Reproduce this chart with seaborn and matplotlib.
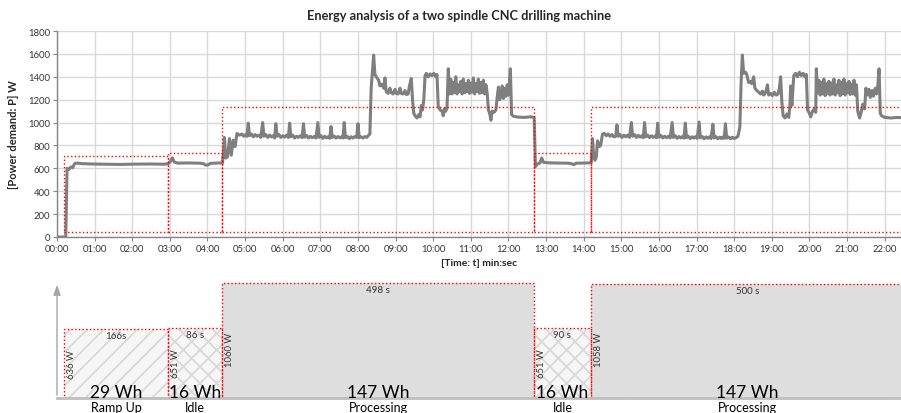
import numpy as np
import matplotlib.pyplot as plt
from matplotlib.ticker import FuncFormatter, MultipleLocator
import seaborn as sns

time_s = [
    0, 14, 16, 19, 22, 25, 28, 32, 40, 55, 75, 100, 125, 150, 170, 177, 181, 184, 187, 192,
    210, 228, 234, 237, 241, 245, 255, 262,
    # processing 1
    264, 267, 269, 272, 275, 278, 281, 284, 287, 291, 295, 298, 301, 303, 305, 307, 310, 313,
    316, 319, 322, 325, 328, 330, 333, 336, 339, 342, 345, 347, 349, 351, 354, 357, 360, 363,
    366, 369, 371, 373, 376, 379, 382, 385, 388, 391, 393, 395, 398, 401, 404, 407, 410, 413,
    416, 418, 421, 424, 427, 430, 433, 435, 437, 439, 442, 445, 448, 451, 454, 456, 458, 460,
    463, 466, 469, 472, 475, 478, 480, 482, 485, 488, 491, 494, 497, 499, 501, 505, 507, 509,
    511, 513, 515, 517, 519, 521, 523, 525, 528, 531, 533, 536, 539, 541, 544, 547, 549, 552,
    555, 557, 560, 562, 565, 567, 569, 571, 574, 577, 579, 581, 583, 585, 587, 589, 592, 595,
    598, 601, 604, 606, 608, 611, 614, 616, 618, 620, 622, 624, 626, 628, 630, 632, 634, 636,
    638, 640, 642, 644, 646, 648, 650, 652, 654, 656, 658, 660, 662, 664, 666, 668, 670, 672,
    674, 676, 678, 680, 682, 684, 686, 688, 690, 692, 694, 697, 700, 702, 704, 706, 708, 710,
    712, 714, 716, 718, 720, 723, 725, 728, 735, 745, 755, 761,
    # idle 2
    763, 766, 770, 773, 776, 785, 800, 815, 821, 824, 828, 840, 850,
    # processing 2
    852, 854, 856, 858, 860, 862, 865, 867, 870, 873, 876, 879, 882, 885, 888, 891, 893, 895,
    898, 901, 904, 907, 910, 913, 916, 918, 921, 924, 927, 930, 933, 935, 937, 939, 942, 945,
    948, 951, 954, 956, 958, 960, 963, 966, 969, 972, 975, 978, 981, 983, 986, 989, 992, 995,
    998, 1000, 1002, 1004, 1007, 1010, 1013, 1016, 1019, 1021, 1024, 1026, 1029, 1032, 1035,
    1038, 1041, 1043, 1046, 1048, 1051, 1054, 1057, 1060, 1062, 1064, 1066, 1068, 1071, 1074,
    1077, 1080, 1083, 1086, 1089, 1091, 1093, 1095, 1098, 1100, 1103, 1106, 1108, 1111, 1113,
    1116, 1119, 1122, 1125, 1127, 1130, 1133, 1135, 1138, 1141, 1144, 1147, 1150, 1152, 1154,
    1156, 1158, 1161, 1164, 1167, 1169, 1170, 1172, 1175, 1178, 1181, 1184, 1187, 1190, 1193,
    1195, 1197, 1200, 1202, 1205, 1208, 1210, 1211, 1213, 1215, 1217, 1219, 1221, 1223, 1225,
    1227, 1229, 1231, 1233, 1235, 1237, 1239, 1241, 1243, 1245, 1247, 1249, 1251, 1253, 1255,
    1257, 1259, 1261, 1263, 1265, 1267, 1269, 1271, 1273, 1275, 1277, 1280, 1282, 1285, 1288,
    1290, 1292, 1295, 1297, 1300, 1302, 1305, 1307, 1309, 1311, 1313, 1315, 1320, 1330, 1340,
    1347,
]
power_w = [
    0, 0, 600, 590, 612, 605, 640, 646, 641, 638, 636, 634, 637, 638, 636, 640, 660, 692, 655, 646,
    647, 645, 640, 628, 630, 644, 646, 648,
    # processing 1
    648, 870, 690, 700, 860, 715, 845, 790, 905, 890, 900, 880, 895, 880, 995, 885, 900, 875,
    895, 880, 890, 870, 1000, 880, 895, 870, 890, 875, 885, 865, 990, 880, 895, 870, 885, 872,
    890, 870, 995, 875, 890, 865, 880, 870, 885, 868, 990, 872, 888, 865, 880, 868, 878, 865,
    1000, 870, 885, 862, 880, 866, 878, 862, 965, 870, 882, 864, 878, 866, 876, 865, 1000, 868,
    880, 860, 876, 865, 878, 870, 990, 868, 875, 865, 878, 870, 890, 900, 1300, 1590, 1420, 1400,
    1385, 1370, 1320, 1335, 1330, 1300, 1390, 1270, 1255, 1300, 1260, 1250, 1290, 1255, 1250, 1300, 1255, 1250,
    1280, 1245, 1250, 1320, 1385, 1200, 1080, 1060, 1040, 1070, 1050, 1150, 1110, 1200, 1410, 1430, 1400, 1425,
    1410, 1430, 1400, 1420, 1140, 1110, 1100, 1060, 1120, 1100, 1130, 1470, 1250, 1380, 1250, 1350, 1260, 1400,
    1250, 1330, 1270, 1360, 1250, 1380, 1260, 1340, 1270, 1370, 1255, 1345, 1265, 1390, 1250, 1340, 1270, 1380,
    1255, 1350, 1260, 1370, 1250, 1330, 1260, 1110, 1080, 1020, 1100, 1090, 1110, 1220, 1310, 1200, 1240, 1320,
    1210, 1300, 1230, 1330, 1240, 1470, 1070, 1055, 1048, 1045, 1050, 1045,
    # idle 2
    615, 638, 645, 690, 652, 648, 646, 645, 640, 632, 645, 646, 648,
    # processing 2
    650, 860, 700, 670, 700, 840, 790, 800, 900, 905, 885, 900, 880, 895, 875, 880, 980, 880,
    895, 870, 890, 875, 890, 870, 1000, 880, 895, 870, 888, 872, 885, 868, 1000, 875, 890, 868,
    885, 870, 882, 868, 995, 872, 888, 866, 880, 868, 880, 866, 1000, 870, 885, 862, 878, 865,
    880, 864, 995, 868, 880, 860, 876, 864, 878, 862, 1005, 866, 878, 858, 875,
    862, 876, 860, 985, 865, 876, 858, 872, 860, 874, 862, 990, 864, 874, 858,
    872, 860, 868, 880, 960, 1350, 1590, 1430, 1440, 1420, 1350, 1360, 1340, 1400, 1300,
    1280, 1265, 1250, 1275, 1240, 1260, 1330, 1240, 1255, 1235, 1265, 1240, 1250, 1300, 1400,
    1180, 1060, 1040, 1075, 1045, 1160, 1320, 1150, 1410, 1430, 1400, 1440, 1410, 1430, 1400,
    1420, 1110, 1080, 1050, 1100, 1120, 1090, 1470, 1260, 1370, 1240, 1350, 1250, 1380, 1235,
    1340, 1255, 1360, 1240, 1345, 1250, 1380, 1240, 1330, 1260, 1370, 1235, 1350, 1250, 1380,
    1240, 1340, 1260, 1360, 1245, 1335, 1250, 1370, 1240, 1330, 1100, 1040, 1080, 1160, 1120,
    1300, 1240, 1290, 1220, 1280, 1230, 1300, 1250, 1320, 1470, 1080, 1060, 1045, 1040, 1045,
    1042,
]

# phases of the cycle
phase_names = ["Ramp Up", "Idle", "Processing", "Idle", "Processing"]
phase_start_s = [11, 177, 263, 761, 851]
phase_duration_s = [166, 86, 498, 90, 500]
box_top_w = [710, 730, 1132, 730, 1132]
mean_power_w = [636, 651, 1060, 651, 1058]
power_labels = ["636 W", "651 W", "1060 W", "651 W", "1058 W"]
duration_labels = ["166s", "86 s", "498 s", "90 s", "500 s"]
energy_labels = ["29 Wh", "16 Wh", "147 Wh", "16 Wh", "147 Wh"]
box_bottom_w = 40

sns.set_theme(style="whitegrid")
plt.rcParams["font.family"] = ["Lato", "DejaVu Sans"]
plt.rcParams["hatch.linewidth"] = 1.3

W, H = 901, 414
fig = plt.figure(figsize=(W / 100, H / 100), dpi=100)
fig.patch.set_facecolor("white")

# top: measured power demand
ax = fig.add_axes([57 / W, 1 - 238 / H, 844 / W, 206 / H])
ax.set_facecolor("white")
sns.lineplot(x=time_s, y=power_w, ax=ax, color="#7f7f7f", linewidth=2.2,
             estimator=None, sort=False, zorder=2)
ax.bar(phase_start_s, np.subtract(box_top_w, box_bottom_w), width=phase_duration_s,
       bottom=box_bottom_w, align="edge", fill=False, edgecolor="red",
       linestyle=":", linewidth=1, zorder=3)
ax.set_xlim(0, 1346)
ax.set_ylim(0, 1800)
ax.xaxis.set_major_locator(MultipleLocator(60))
ax.xaxis.set_major_formatter(FuncFormatter(lambda v, p: f"{int(v) // 60:02d}:{int(v) % 60:02d}"))
ax.yaxis.set_major_locator(MultipleLocator(200))
ax.grid(True, color="#d9d9d9", linewidth=1)
for side in ["top", "right"]:
    ax.spines[side].set_visible(False)
for side in ["left", "bottom"]:
    ax.spines[side].set_color("#868686")
    ax.spines[side].set_linewidth(1)
ax.tick_params(axis="both", length=3, width=0.8, color="#868686", labelsize=6.8,
               labelcolor="#333333", pad=2, bottom=True, left=True)
ax.set_xlabel("[Time: t] min:sec", fontsize=7.5, fontweight="bold", labelpad=4)
ax.set_ylabel("[Power demand: P] W", fontsize=8, fontweight="bold")
ax.yaxis.set_label_coords((19 - 57) / 844, 0.5)
fig.text(459 / W, 1 - 16 / H, "Energy analysis of a two spindle CNC drilling machine",
         ha="center", va="center", fontsize=9.2, fontweight="bold")

# bottom: schematic energy blocks
ax2 = fig.add_axes([57 / W, 1 - 399 / H, 844 / W, 116 / H])
ax2.set_facecolor("white")
hatches = {"Ramp Up": "//", "Idle": "xx", "Processing": None}
for name, x0, dur, pw in zip(phase_names, phase_start_s, phase_duration_s, mean_power_w):
    hatch = hatches[name]
    fill = "#f6f6f6" if hatch else "#dedede"
    ax2.bar(x0, pw, width=dur, align="edge", color=fill, hatch=hatch,
            edgecolor="#d9d9d9", linewidth=0, zorder=1)
ax2.bar(phase_start_s, mean_power_w, width=phase_duration_s, align="edge", fill=False,
        edgecolor="red", linestyle=":", linewidth=1, zorder=2)
ax2.set_xlim(0, 1346)
ax2.set_ylim(0, 1072)
ax2.grid(False)
ax2.set_xticks([])
ax2.set_yticks([])
for side in ["top", "right", "left"]:
    ax2.spines[side].set_visible(False)
ax2.spines["bottom"].set_color("#bfbfbf")
ax2.spines["bottom"].set_linewidth(2)
ax2.annotate("", xy=(0, 1), xytext=(0, 0), xycoords="axes fraction",
             arrowprops=dict(arrowstyle="-|>,head_length=0.5,head_width=0.18",
                             color="#a6a6a6", lw=1), annotation_clip=False)

for name, x0, dur, pw, pl, dl, el in zip(phase_names, phase_start_s, phase_duration_s,
                                         mean_power_w, power_labels, duration_labels,
                                         energy_labels):
    xc = x0 + dur / 2
    ax2.annotate(dl, (xc, pw), xytext=(0, -1.5), textcoords="offset points",
                 ha="center", va="top", fontsize=7, color="#333333")
    ly = pw * 0.5 if pw < 800 else pw * 0.43
    ax2.annotate(pl, (x0, ly), xytext=(5.5, 0), textcoords="offset points",
                 ha="center", va="center", rotation=90, fontsize=6.8, color="#333333")
    ax2.annotate(el, (xc, 0), xytext=(0, 1), textcoords="offset points",
                 ha="center", va="baseline", fontsize=12.5, color="black", zorder=5)
    ax2.annotate(name, (xc, 0), xytext=(0, -2.5), textcoords="offset points",
                 ha="center", va="top", fontsize=9, color="black", annotation_clip=False)

fig.savefig("out.png", dpi=100)
